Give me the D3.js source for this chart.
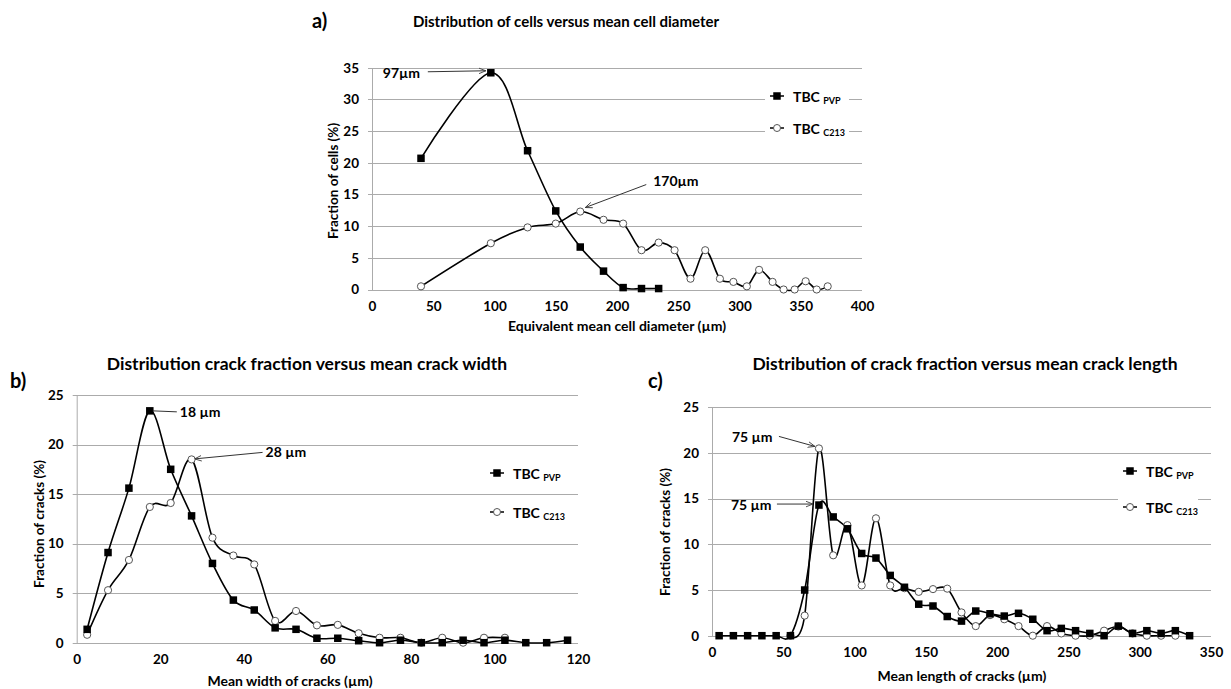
<!DOCTYPE html>
<html>
<head>
<meta charset="utf-8">
<script src="https://cdn.jsdelivr.net/npm/d3@7"></script>
<style>
  body { margin: 0; background: #fff; }
  text { font-family: Lato, "Liberation Sans", sans-serif; font-weight: bold; fill: #000; }
</style>
</head>
<body>
<script>
// a) cells vs mean cell diameter
const aPvpX = [40, 97, 127, 150, 170, 189, 205, 220, 234];
const aPvpY = [20.7, 34.2, 21.9, 12.4, 6.7, 2.9, 0.3, 0.15, 0.15];
const aC213X = [40, 97, 127, 150, 170, 189, 205, 220, 234, 247, 260, 272, 284, 295, 306, 316, 327, 336, 345, 354, 363, 372];
const aC213Y = [0.5, 7.3, 9.8, 10.4, 12.3, 11.0, 10.4, 6.2, 7.4, 6.2, 1.7, 6.2, 1.7, 1.2, 0.5, 3.1, 1.2, 0, 0, 1.3, 0, 0.5];
const aXTicks = [0, 50, 100, 150, 200, 250, 300, 350, 400];
const aYTicks = [0, 5, 10, 15, 20, 25, 30, 35];

// b) crack fraction vs mean crack width
const bPvpX = [2.5, 7.5, 12.5, 17.5, 22.5, 27.5, 32.5, 37.5, 42.5, 47.5, 52.5, 57.5, 62.5, 67.5, 72.5, 77.5, 82.5, 87.5, 92.5, 97.5, 102.5, 107.5, 112.5, 117.5];
const bPvpY = [1.35, 9.1, 15.6, 23.4, 17.5, 12.8, 8.0, 4.3, 3.3, 1.5, 1.35, 0.45, 0.45, 0.2, 0, 0.25, 0, 0, 0.25, 0, 0.25, 0, 0, 0.25];
const bC213X = [2.5, 7.5, 12.5, 17.5, 22.5, 27.5, 32.5, 37.5, 42.5, 47.5, 52.5, 57.5, 62.5, 67.5, 72.5, 77.5, 82.5, 87.5, 92.5, 97.5, 102.5];
const bC213Y = [0.8, 5.3, 8.35, 13.7, 14.1, 18.5, 10.6, 8.8, 7.9, 2.2, 3.2, 1.75, 1.8, 0.95, 0.5, 0.5, 0, 0.5, 0, 0.5, 0.5];
const bXTicks = [0, 20, 40, 60, 80, 100, 120];
const bYTicks = [0, 5, 10, 15, 20, 25];

// c) crack fraction vs mean crack length
const cPvpX = [5, 15, 25, 35, 45, 55, 65, 75, 85, 95, 105, 115, 125, 135, 145, 155, 165, 175, 185, 195, 205, 215, 225, 235, 245, 255, 265, 275, 285, 295, 305, 315, 325, 335];
const cPvpY = [0, 0, 0, 0, 0, 0, 5.0, 14.3, 13.0, 11.7, 9.0, 8.5, 6.6, 5.3, 3.45, 3.25, 2.1, 1.6, 2.7, 2.4, 2.15, 2.45, 1.8, 0.55, 0.8, 0.55, 0.25, 0, 1.05, 0.25, 0.55, 0.25, 0.55, 0];
const cC213X = [55, 65, 75, 85, 95, 105, 115, 125, 135, 145, 155, 165, 175, 185, 195, 205, 215, 225, 235, 245, 255, 265, 275, 285, 295, 305, 315, 325];
const cC213Y = [0, 2.2, 20.5, 8.8, 12.1, 5.5, 12.85, 5.5, 5.2, 4.8, 5.1, 5.15, 2.55, 1.05, 2.25, 1.8, 1.05, 0, 1.05, 0.25, 0, 0, 0.55, 1.0, 0.25, 0, 0, 0];
const cXTicks = [0, 50, 100, 150, 200, 250, 300, 350];
const cYTicks = [0, 5, 10, 15, 20, 25];

const seriesNames = [['TBC ', 'PVP'], ['TBC ', 'C213']];

const W = 1231, H = 689;
const svg = d3.select('body').append('svg').attr('width', W).attr('height', H);
svg.append('rect').attr('width', W).attr('height', H).attr('fill', '#fff');

const defs = svg.append('defs');
defs.append('marker')
    .attr('id', 'arr').attr('viewBox', '0 0 10 10').attr('refX', 10).attr('refY', 5)
    .attr('markerWidth', 7).attr('markerHeight', 7).attr('orient', 'auto')
    .append('path').attr('d', 'M0,1 L10,5 L0,9').attr('fill', 'none').attr('stroke', '#333').attr('stroke-width', 1.2);

const zip = (xs, ys) => xs.map((v, i) => ({ x: v, y: ys[i] }));

const draw_panel = (p) => {
    const x = d3.scaleLinear().domain(p.xDomain).range([p.left, p.right]);
    const y = d3.scaleLinear().domain(p.yDomain).range([p.bottom, p.top]);
    const g = svg.append('g');

    // gridlines
    g.append('g').selectAll('line').data(p.yTicks).join('line')
        .attr('x1', p.left - 4).attr('x2', p.right)
        .attr('y1', d => Math.round(y(d)) + 0.5).attr('y2', d => Math.round(y(d)) + 0.5)
        .attr('stroke', '#ababab').attr('stroke-width', 1);

    // y axis
    const ya = g.append('g').attr('transform', `translate(${p.left},0)`)
        .call(d3.axisLeft(y).tickValues(p.yTicks).tickSize(0).tickPadding(13));
    ya.select('.domain').attr('stroke', '#ababab');
    ya.selectAll('text').attr('font-size', 13.5).attr('font-family', null);

    // x axis labels
    const xa = g.append('g').attr('transform', `translate(0,${p.bottom})`)
        .call(d3.axisBottom(x).tickValues(p.xTicks).tickSize(0).tickPadding(12));
    xa.select('.domain').remove();
    xa.selectAll('text').attr('font-size', 13.5).attr('font-family', null);

    // axis titles
    g.append('text').attr('x', p.xTitlePos[0]).attr('y', p.xTitlePos[1])
        .attr('text-anchor', 'middle').attr('dominant-baseline', 'central')
        .attr('font-size', 14).text(p.xTitle);
    g.append('text')
        .attr('transform', `translate(${p.yTitlePos[0]},${p.yTitlePos[1]}) rotate(-90)`)
        .attr('text-anchor', 'middle').attr('dominant-baseline', 'central')
        .attr('font-size', 13.5).text(p.yTitle);

    // chart title and panel letter
    g.append('text').attr('x', p.titlePos[0]).attr('y', p.titlePos[1])
        .attr('text-anchor', 'middle').attr('dominant-baseline', 'central')
        .attr('font-size', p.titleSize).text(p.title);
    g.append('text').attr('x', p.letterPos[0]).attr('y', p.letterPos[1])
        .attr('dominant-baseline', 'central').attr('font-size', 20).text(p.letter);

    const line = d3.line().x(d => x(d.x)).y(d => y(d.y)).curve(d3.curveCatmullRom.alpha(0));

    const pvp = zip(p.pvp[0], p.pvp[1]);
    const c213 = zip(p.c213[0], p.c213[1]);

    g.append('path').datum(c213)
        .attr('fill', 'none').attr('stroke', '#000').attr('stroke-width', 1.6).attr('d', line);
    g.append('path').datum(pvp)
        .attr('fill', 'none').attr('stroke', '#000').attr('stroke-width', 1.6).attr('d', line);

    g.append('g').selectAll('circle').data(c213).join('circle')
        .attr('cx', d => x(d.x)).attr('cy', d => y(d.y)).attr('r', 3.6)
        .attr('fill', '#fff').attr('stroke', '#555').attr('stroke-width', 1);
    g.append('g').selectAll('rect').data(pvp).join('rect')
        .attr('x', d => x(d.x) - 3.75).attr('y', d => y(d.y) - 3.75)
        .attr('width', 7.5).attr('height', 7.5).attr('fill', '#000');

    // annotations
    p.notes.forEach(n => {
        const px = x(n.at[0]), py = y(n.at[1]);
        g.append('line')
            .attr('x1', px + n.from[0]).attr('y1', py + n.from[1])
            .attr('x2', px + n.to[0]).attr('y2', py + n.to[1])
            .attr('stroke', '#333').attr('stroke-width', 1)
            .attr('marker-end', n.arrow ? 'url(#arr)' : null);
        g.append('text').attr('x', px + n.text[0]).attr('y', py + n.text[1])
            .attr('dominant-baseline', 'central').attr('font-size', 14).text(n.label);
    });

    // legend
    p.legend.forEach((pos, i) => {
        const lg = g.append('g').attr('transform', `translate(${pos[0]},${pos[1]})`);
        lg.append('rect').attr('x', -12).attr('y', -12).attr('width', p.legendW).attr('height', 22).attr('fill', '#fff');
        lg.append('line').attr('x1', -7).attr('x2', 7).attr('stroke', '#000').attr('stroke-width', 1.5);
        if (i === 0) {
            lg.append('rect').attr('x', -3.75).attr('y', -3.75).attr('width', 7.5).attr('height', 7.5).attr('fill', '#000');
        } else {
            lg.append('circle').attr('r', 3.5).attr('fill', '#fff').attr('stroke', '#555');
        }
        const t = lg.append('text').attr('x', 16).attr('y', 0).attr('dominant-baseline', 'central').attr('font-size', 14);
        t.append('tspan').text(seriesNames[i][0]);
        t.append('tspan').attr('font-size', 9).attr('dy', 4).text(seriesNames[i][1]);
    });
};

draw_panel({
    left: 372, right: 862, top: 67.7, bottom: 289.5,
    xDomain: [0, 400], yDomain: [0, 35], xTicks: aXTicks, yTicks: aYTicks,
    pvp: [aPvpX, aPvpY], c213: [aC213X, aC213Y],
    title: 'Distribution of cells versus mean cell diameter', titlePos: [566, 21], titleSize: 15,
    letter: 'a)', letterPos: [312, 20],
    xTitle: 'Equivalent mean cell diameter (\u00b5m)', xTitlePos: [617, 325],
    yTitle: 'Fraction of cells (%)', yTitlePos: [333, 181],
    legend: [[777, 96], [777, 128]], legendW: 84,
    notes: [
        { at: [97, 34.2], label: '97\u00b5m', text: [-108, 0], from: [-63, -1], to: [-5, -2], arrow: true },
        { at: [170, 12.3], label: '170\u00b5m', text: [73, -31], from: [66, -27], to: [5, -4], arrow: true }
    ]
});

draw_panel({
    left: 76.7, right: 578, top: 395, bottom: 642.7,
    xDomain: [0, 120], yDomain: [0, 25], xTicks: bXTicks, yTicks: bYTicks,
    pvp: [bPvpX, bPvpY], c213: [bC213X, bC213Y],
    title: 'Distribution crack fraction versus mean crack width', titlePos: [307, 363], titleSize: 17.5,
    letter: 'b)', letterPos: [10, 380],
    xTitle: 'Mean width of cracks (\u00b5m)', xTitlePos: [290, 680],
    yTitle: 'Fraction of cracks (%)', yTitlePos: [39, 524],
    legend: [[497, 473], [497, 512]], legendW: 76,
    notes: [
        { at: [17.5, 23.4], label: '18 \u00b5m', text: [30, 1], from: [3, 0], to: [27, 1], arrow: false },
        { at: [27.5, 18.5], label: '28 \u00b5m', text: [74, -8], from: [71, -7], to: [3, -0.5], arrow: true }
    ]
});

draw_panel({
    left: 712, right: 1211, top: 407.3, bottom: 635.7,
    xDomain: [0, 350], yDomain: [0, 25], xTicks: cXTicks, yTicks: cYTicks,
    pvp: [cPvpX, cPvpY], c213: [cC213X, cC213Y],
    title: 'Distribution of crack fraction versus mean crack length', titlePos: [965, 363], titleSize: 17.5,
    letter: 'c)', letterPos: [648, 380],
    xTitle: 'Mean length of cracks (\u00b5m)', xTitlePos: [962, 675],
    yTitle: 'Fraction of cracks (%)', yTitlePos: [665, 532],
    legend: [[1130, 471], [1130, 507]], legendW: 80,
    notes: [
        { at: [75, 20.5], label: '75 \u00b5m', text: [-87, -12], from: [-40, -12], to: [-4, -2], arrow: true },
        { at: [75, 14.3], label: '75 \u00b5m', text: [-88, -1], from: [-42, -1], to: [-6, -1], arrow: true }
    ]
});
</script>
</body>
</html>
